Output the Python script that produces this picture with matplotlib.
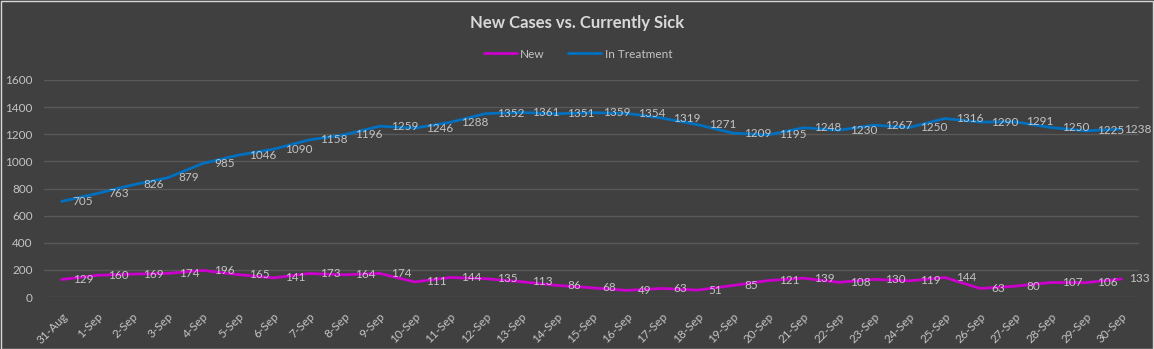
# New Cases vs. Currently Sick — Excel-style dark line chart
import matplotlib
matplotlib.use('Agg')
import matplotlib.pyplot as plt
from matplotlib.patches import Rectangle

plt.rcParams['font.family'] = ['Lato', 'DejaVu Sans']

# ===== data =====
dates = ['31-Aug'] + ['{}-Sep'.format(d) for d in range(1, 31)]
new_cases = [129, 160, 169, 174, 196, 165, 141, 173, 164, 174, 111, 144, 135, 113, 86,
             68, 49, 63, 51, 85, 121, 139, 108, 130, 119, 144, 63, 80, 107, 106, 133]
in_treatment = [705, 763, 826, 879, 985, 1046, 1090, 1158, 1196, 1259, 1246, 1288, 1352,
                1361, 1351, 1359, 1354, 1319, 1271, 1209, 1195, 1248, 1230, 1267, 1250,
                1316, 1290, 1291, 1250, 1225, 1238]
y_ticks = [0, 200, 400, 600, 800, 1000, 1200, 1400, 1600]

# ===== style =====
BG = '#404040'
GRID = '#595959'
TXT = '#c4c4c4'
TITLE = '#d9d9d9'
C_NEW = '#cc00cc'
C_TREAT = '#0070c0'
FS = 8.5

W, H = 1154, 349
fig = plt.figure(figsize=(W / 100, H / 100), dpi=100, facecolor=BG)
ax = fig.add_axes([44 / W, (H - 297) / H, (1139 - 44) / W, (297 - 80) / H])
ax.set_facecolor(BG)

x = list(range(len(dates)))
ax.plot(x, new_cases, color=C_NEW, lw=2.0, label='New', solid_capstyle='round', zorder=3)
ax.plot(x, in_treatment, color=C_TREAT, lw=2.0, label='In Treatment',
        solid_capstyle='round', zorder=3)

# data labels to the right of each point (last ones pulled in to stay inside, like Excel)
for series, last_dx in ((new_cases, 5.5), (in_treatment, 2.0)):
    for i, v in enumerate(series):
        dx = 8 if i < len(series) - 1 else last_dx
        ax.annotate(str(v), xy=(i, v), xytext=(dx, 0), textcoords='offset points',
                    ha='left', va='center', fontsize=FS, color=TXT, zorder=4,
                    annotation_clip=False)

ax.set_xlim(-0.5, len(dates) - 0.5)
ax.set_ylim(0, 1600)
ax.set_yticks(y_ticks)
ax.set_xticks(x)
ax.set_xticklabels(dates, rotation=45, ha='right', rotation_mode='anchor')
ax.tick_params(axis='x', length=0, pad=10, labelsize=FS, labelcolor=TXT)
ax.tick_params(axis='y', length=0, pad=8, labelsize=FS, labelcolor=TXT)
ax.grid(axis='y', color=GRID, lw=1, zorder=0)
ax.set_axisbelow(True)
for s in ax.spines.values():
    s.set_visible(False)

fig.text(0.5, 1 - 23 / H, 'New Cases vs. Currently Sick', ha='center', va='center',
         fontsize=12, fontweight='bold', color=TITLE)
leg = fig.legend(loc='center', bbox_to_anchor=(578 / W, 1 - 54 / H), ncol=2,
                 frameon=False, fontsize=FS, handlelength=2.8, handletextpad=0.3,
                 columnspacing=2.0)
for t in leg.get_texts():
    t.set_color(TXT)

# thin light border round the chart area
fig.patches.append(Rectangle((0.5 / W, 0.5 / H), 1 - 1.5 / W, 1 - 1.5 / H,
                             transform=fig.transFigure, fill=False,
                             edgecolor='#d9d9d9', lw=1))

fig.savefig('out.png', dpi=100, facecolor=BG)
